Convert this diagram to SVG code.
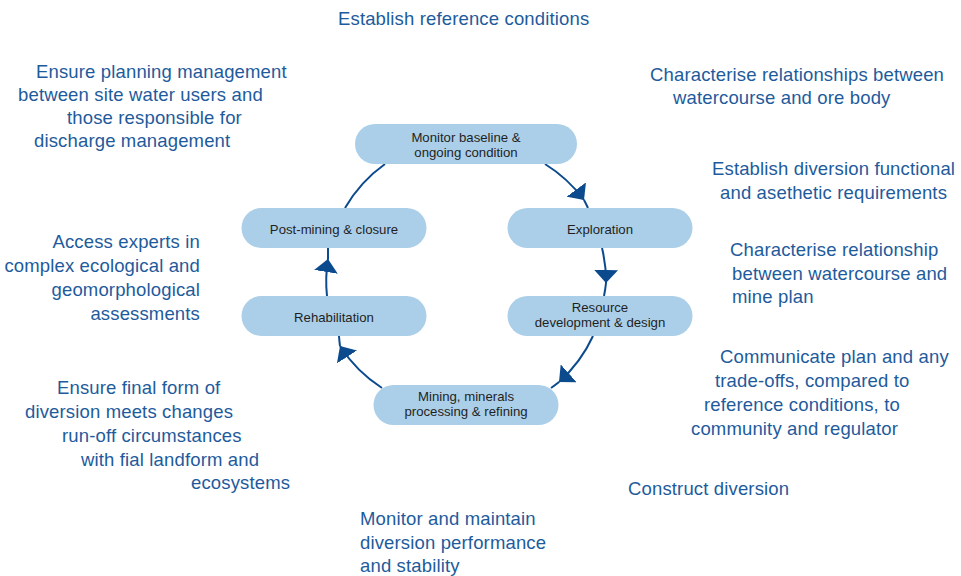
<svg xmlns="http://www.w3.org/2000/svg" width="961" height="576" viewBox="0 0 961 576">
<style>
.lbl{font-family:"Liberation Sans",Arial,sans-serif;font-size:18.5px;letter-spacing:0.15px;fill:#1e5b9c}
.nt{font-family:"Liberation Sans",Arial,sans-serif;font-size:13.2px;fill:#1f1f1f;text-anchor:middle}
.nb{fill:#abcfe8}
.cn{fill:none;stroke:#0c4a8e;stroke-width:2}
.r{text-anchor:end}
</style>
<defs>
<marker id="ah" markerUnits="userSpaceOnUse" markerWidth="13" markerHeight="24" viewBox="0 0 13 24" refX="13" refY="12" orient="auto">
<path d="M0,0 L13,12 L0,24 z" fill="#0c4a8e"/>
</marker>
</defs>
<rect width="961" height="576" fill="#ffffff"/>

<g id="connectors">
<path class="cn" d="M345,208 A140,140 0 0 1 385,164"/>
<path class="cn" d="M545,164 A140,140 0 0 1 584,200" marker-end="url(#ah)"/>
<path class="cn" d="M584,200 A140,140 0 0 1 588,208"/>
<path class="cn" d="M602,248 A140,140 0 0 1 606,283" marker-end="url(#ah)"/>
<path class="cn" d="M606,283 A140,140 0 0 1 604,296"/>
<path class="cn" d="M593,336 A140,140 0 0 1 559,382" marker-end="url(#ah)"/>
<path class="cn" d="M559,382 A140,140 0 0 1 551,388"/>
<path class="cn" d="M382,388 A140,140 0 0 1 340,346" marker-end="url(#ah)"/>
<path class="cn" d="M340,346 A140,140 0 0 1 339,336"/>
<path class="cn" d="M327,296 A140,140 0 0 1 328,259" marker-end="url(#ah)"/>
<path class="cn" d="M328,259 L328,248"/>
</g>

<g id="monitor">
<rect class="nb" x="355" y="124" width="222" height="40" rx="20"/>
<text class="nt" x="466" y="142">Monitor baseline &amp;</text>
<text class="nt" x="466" y="156.5">ongoing condition</text>
</g>
<g id="post-mining">
<rect class="nb" x="241.5" y="208" width="185" height="40" rx="20"/>
<text class="nt" x="334" y="234">Post-mining &amp; closure</text>
</g>
<g id="exploration">
<rect class="nb" x="507.5" y="208" width="185" height="40" rx="20"/>
<text class="nt" x="600" y="234">Exploration</text>
</g>
<g id="rehabilitation">
<rect class="nb" x="241.5" y="296" width="185" height="40" rx="20"/>
<text class="nt" x="334" y="322">Rehabilitation</text>
</g>
<g id="resource">
<rect class="nb" x="507.5" y="296" width="185" height="40" rx="20"/>
<text class="nt" x="600" y="311.5">Resource</text>
<text class="nt" x="600" y="326.5">development &amp; design</text>
</g>
<g id="mining">
<rect class="nb" x="373.5" y="385" width="185" height="40" rx="20"/>
<text class="nt" x="466" y="400.5">Mining, minerals</text>
<text class="nt" x="466" y="415.5">processing &amp; refining</text>
</g>

<g id="annotations">
<text class="lbl" x="338" y="25">Establish reference conditions</text>

<text class="lbl" x="36" y="78">Ensure planning management</text>
<text class="lbl" x="18" y="101">between site water users and</text>
<text class="lbl" x="67" y="124">those responsible for</text>
<text class="lbl" x="34" y="147">discharge management</text>

<text class="lbl" x="650" y="80.5">Characterise relationships between</text>
<text class="lbl" x="673" y="104">watercourse and ore body</text>

<text class="lbl" x="712" y="175">Establish diversion functional</text>
<text class="lbl" x="720" y="198.5">and asethetic requirements</text>

<text class="lbl" x="730" y="256">Characterise relationship</text>
<text class="lbl" x="732" y="279.5">between watercourse and</text>
<text class="lbl" x="732" y="303">mine plan</text>

<text class="lbl" x="720" y="363">Communicate plan and any</text>
<text class="lbl" x="715" y="387">trade-offs, compared to</text>
<text class="lbl" x="704" y="411">reference conditions, to</text>
<text class="lbl" x="691" y="435">community and regulator</text>

<text class="lbl" x="628" y="495">Construct diversion</text>

<text class="lbl" x="360" y="525">Monitor and maintain</text>
<text class="lbl" x="360" y="548.5">diversion performance</text>
<text class="lbl" x="360" y="572">and stability</text>

<text class="lbl r" x="200" y="248">Access experts in</text>
<text class="lbl r" x="200" y="272">complex ecological and</text>
<text class="lbl r" x="200" y="296">geomorphological</text>
<text class="lbl r" x="200" y="320">assessments</text>

<text class="lbl" x="57" y="394">Ensure final form of</text>
<text class="lbl" x="25" y="418">diversion meets changes</text>
<text class="lbl" x="62" y="442">run-off circumstances</text>
<text class="lbl" x="81" y="466">with fial landform and</text>
<text class="lbl" x="191" y="489">ecosystems</text>
</g>
</svg>
